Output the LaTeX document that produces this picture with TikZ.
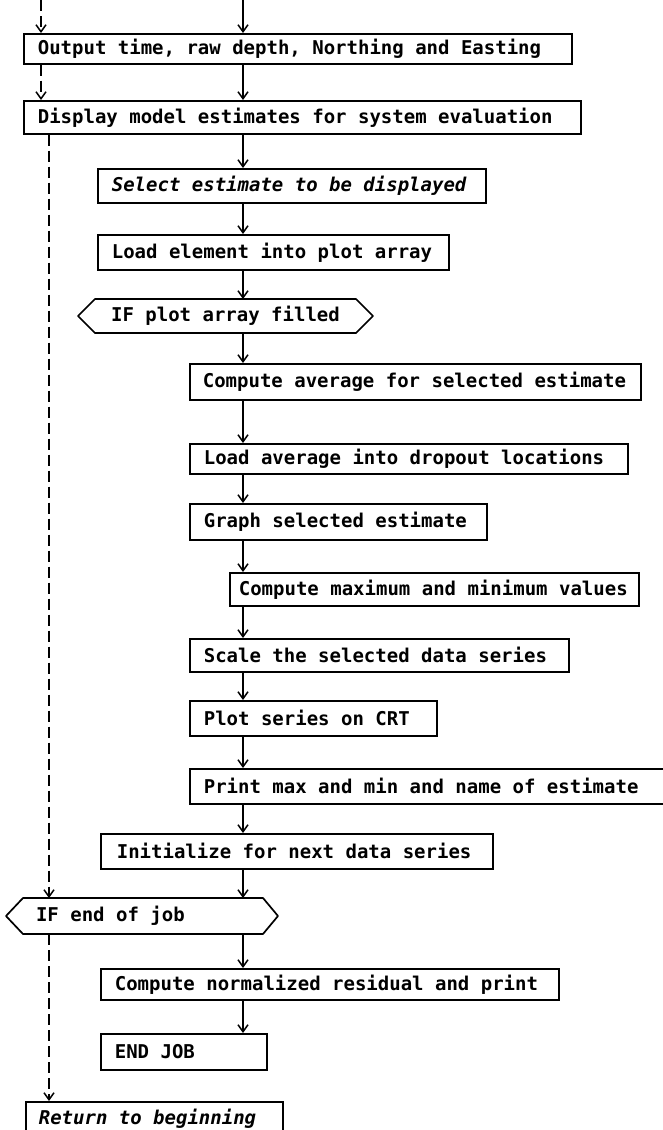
\documentclass[tikz,border=0pt]{standalone}
\usepackage{fontspec}
\newfontfamily\plotfont{DejaVu Sans Mono}
\usetikzlibrary{arrows.meta}
\begin{document}
\begin{tikzpicture}[x=1pt,y=-1pt,
  box/.style={draw, line width=1.7pt, anchor=north west, inner xsep=14pt, inner ysep=0pt,
    font=\plotfont\bfseries\fontsize{19}{22}\selectfont,
    execute at begin node={\spaceskip=0.602em\relax\xspaceskip=0.602em\relax\frenchspacing}},
  hexnode/.style={inner sep=0pt, outer sep=0pt, font=\plotfont\bfseries\fontsize{19}{22}\selectfont,
    execute at begin node={\spaceskip=0.602em\relax\xspaceskip=0.602em\relax\frenchspacing}},
  hexline/.style={line width=1.7pt, line join=round},
  flow/.style={line width=1.6pt, -{Straight Barb[length=7pt,width=10pt,line width=1.5pt]}},
  back/.style={flow, dash pattern=on 11pt off 5pt},
]
\useasboundingbox (0,0) rectangle (662,1130);

\coordinate (sp) at (243,0);
\coordinate (in2) at (41,0);
\coordinate (rt) at (49,0);

\node[box, text width=520pt, minimum height=30pt] (b1) at (23,33) {Output time, raw depth, Northing and Easting};
\node[box, text width=529pt, minimum height=33pt] (b2) at (23,100) {Display model estimates for system evaluation};
\node[box, text width=360pt, minimum height=34pt] (b3) at (97,168) {\itshape Select estimate to be displayed};
\node[box, text width=323pt, minimum height=35pt] (b4) at (97,234) {Load element into plot array};

\node[hexnode, minimum width=295pt, minimum height=34pt] (d1) at (225.5,316) {IF plot array filled};
\draw[hexline] (d1.west) -- ([xshift=17pt]d1.north west) -- ([xshift=-17pt]d1.north east) -- (d1.east)
  -- ([xshift=-17pt]d1.south east) -- ([xshift=17pt]d1.south west) -- cycle;

\node[box, inner xsep=13pt, text width=425pt, minimum height=36pt] (b5) at (189,363) {Compute average for selected estimate};
\node[box, text width=410pt, minimum height=30pt] (b6) at (189,443) {Load average into dropout locations};
\node[box, text width=269pt, minimum height=36pt] (b7) at (189,503) {Graph selected estimate};
\node[box, inner xsep=9pt, text width=391pt, minimum height=33pt] (b8) at (229,572) {Compute maximum and minimum values};
\node[box, text width=351pt, minimum height=33pt] (b9) at (189,638) {Scale the selected data series};
\node[box, text width=219pt, minimum height=35pt] (b10) at (189,700) {Plot series on CRT};
\node[box, text width=447pt, minimum height=35pt] (b11) at (189,768) {Print max and min and name of estimate};
\node[box, inner xsep=16pt, text width=360pt, minimum height=35pt] (b12) at (100,833) {Initialize for next data series};

\node[hexnode, inner xsep=30pt, text width=212pt, minimum height=36pt] (d2) at (142,916) {IF end of job};
\draw[hexline] (d2.west) -- ([xshift=17pt]d2.north west) -- ([xshift=-15pt]d2.north east) -- (d2.east)
  -- ([xshift=-15pt]d2.south east) -- ([xshift=17pt]d2.south west) -- cycle;

\node[box, text width=430pt, minimum height=31pt] (b13) at (100,968) {Compute normalized residual and print};
\node[box, text width=138pt, minimum height=36pt] (b14) at (100,1033) {END JOB};
\node[box, inner xsep=13pt, text width=231pt, minimum height=34pt] (b15) at (25,1101) {\itshape Return to beginning};

% main flow
\draw[flow] (sp) -- (b1.north -| sp);
\draw[flow] (b1.south -| sp) -- (b2.north -| sp);
\draw[flow] (b2.south -| sp) -- (b3.north -| sp);
\draw[flow] (b3.south -| sp) -- (b4.north -| sp);
\draw[flow] (b4.south -| sp) -- (d1.north -| sp);
\draw[flow] (d1.south -| sp) -- (b5.north -| sp);
\draw[flow] (b5.south -| sp) -- (b6.north -| sp);
\draw[flow] (b6.south -| sp) -- (b7.north -| sp);
\draw[flow] (b7.south -| sp) -- (b8.north -| sp);
\draw[flow] (b8.south -| sp) -- (b9.north -| sp);
\draw[flow] (b9.south -| sp) -- (b10.north -| sp);
\draw[flow] (b10.south -| sp) -- (b11.north -| sp);
\draw[flow] (b11.south -| sp) -- (b12.north -| sp);
\draw[flow] (b12.south -| sp) -- (d2.north -| sp);
\draw[flow] (d2.south -| sp) -- (b13.north -| sp);
\draw[flow] (b13.south -| sp) -- (b14.north -| sp);

% dashed return path
\draw[back] (in2) -- (b1.north -| in2);
\draw[back] (b1.south -| in2) -- (b2.north -| in2);
\draw[back] (b2.south -| rt) -- (d2.north -| rt);
\draw[back] (d2.south -| rt) -- (b15.north -| rt);
\end{tikzpicture}
\end{document}
